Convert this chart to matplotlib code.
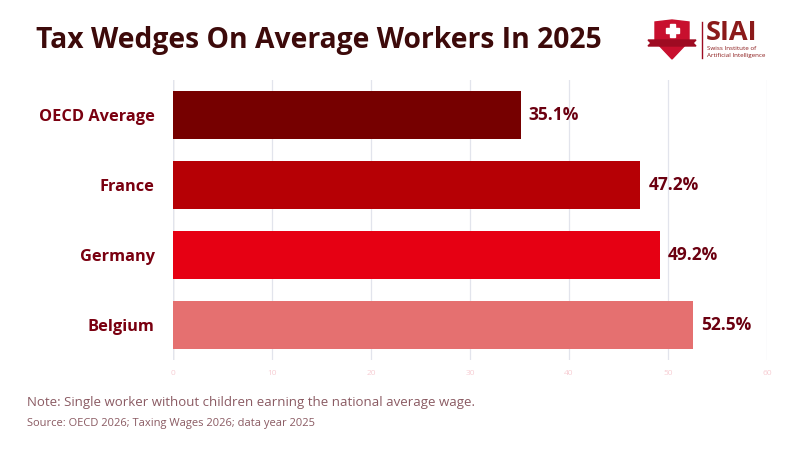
import matplotlib
matplotlib.use("Agg")
import matplotlib.pyplot as plt
from matplotlib.patches import Polygon, Rectangle

categories = ["OECD Average", "France", "Germany", "Belgium"]
values = [35.1, 47.2, 49.2, 52.5]
value_labels = ["35.1%", "47.2%", "49.2%", "52.5%"]
bar_colors = ["#760000", "#B60005", "#E60013", "#E57070"]
xticks = [0, 10, 20, 30, 40, 50, 60]

title = "Tax Wedges On Average Workers In 2025"
note = "Note: Single worker without children earning the national average wage."
source = "Source: OECD 2026; Taxing Wages 2026; data year 2025"

plt.rcParams['font.family'] = ['Open Sans', 'DejaVu Sans']

fig = plt.figure(figsize=(8, 4.5), dpi=100)
ax = fig.add_axes([0.216, 0.2, 0.743, 0.622])

y = list(range(len(categories)))
ax.barh(y, values, height=0.68, color=bar_colors, zorder=3)
ax.set_ylim(3.5, -0.5)
ax.set_xlim(0, 60)
ax.set_xticks(xticks)
ax.set_xticklabels([str(t) for t in xticks])
ax.tick_params(axis='x', length=0, labelsize=6, labelcolor="#F7CDD3", pad=7)
ax.set_yticks(y)
ax.set_yticklabels(categories, fontsize=11.8, fontweight='bold', color="#7A0010")
ax.tick_params(axis='y', length=0, pad=13)
for s in ax.spines.values():
    s.set_visible(False)
ax.grid(axis='x', color="#E2E4EC", linewidth=0.9, zorder=0)
ax.axvline(0, color="#D0D0D0", linewidth=1.0, zorder=1)

for yi, v, lab in zip(y, values, value_labels):
    ax.text(v + 0.8, yi, lab, va='center', ha='left', fontsize=12.5,
            fontweight='bold', color="#6B0010")

fig.text(0.045, 0.91, title, fontsize=20.3, fontweight='bold', color="#3D0A0A",
         va='center', ha='left')
fig.text(0.034, 0.105, note, fontsize=9.5, color="#8A5A62", va='center', ha='left')
fig.text(0.034, 0.058, source, fontsize=8, color="#8A5A62", va='center', ha='left')

# Logo (1 unit = 1 px; x = px - 640, y = 63 - py)
lax = fig.add_axes([0.80, 0.86, 0.17, 0.11])
lax.set_xlim(0, 136)
lax.set_ylim(0, 49.5)
lax.axis('off')
shield = Polygon([(15, 41), (32, 43), (49, 41), (49, 22), (32, 4), (15, 22)],
                 closed=True, color="#C8102E")
lax.add_patch(shield)
lax.add_patch(Polygon([(8, 17), (56, 17), (53, 20), (56, 23), (8, 23), (11, 20)],
                      closed=True, color="#9E0B22"))
lax.add_patch(Rectangle((29.5, 26), 5, 13, color="white"))
lax.add_patch(Rectangle((25.5, 30), 13, 5, color="white"))
lax.plot([62, 62], [5, 41], color="#9E0B22", linewidth=1)
lax.text(66, 30.5, "SIAI", fontsize=19.5, fontweight='bold', color="#8B1A1A",
         va='center', ha='left')
lax.text(67, 14, "Swiss Institute of", fontsize=4.5, color="#8B1A1A", va='center', ha='left')
lax.text(67, 7, "Artificial Intelligence", fontsize=4.5, color="#8B1A1A", va='center', ha='left')

fig.savefig("out.png", dpi=100, facecolor="white")
